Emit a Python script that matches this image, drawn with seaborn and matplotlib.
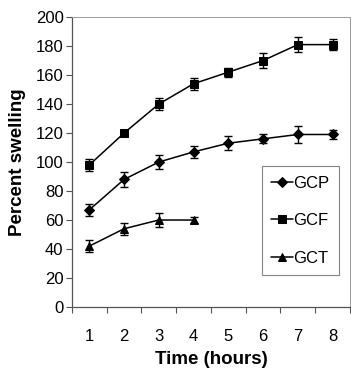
import matplotlib
matplotlib.use("Agg")
import matplotlib.pyplot as plt
import seaborn as sns
import pandas as pd

hours = [1, 2, 3, 4, 5, 6, 7, 8]
gcp = [67, 88, 100, 107, 113, 116, 119, 119]
gcp_err = [4, 5, 5, 4, 5, 3, 6, 3]
gcf = [98, 120, 140, 154, 162, 170, 181, 181]
gcf_err = [4, 2, 4, 4, 3, 5, 5, 4]
gct_hours = [1, 2, 3, 4]
gct = [42, 54, 60, 60]
gct_err = [4, 4, 5, 2]

sns.set_theme(style="white")
plt.rcParams["font.family"] = ["Liberation Sans", "DejaVu Sans"]
plt.rcParams["text.color"] = "black"
plt.rcParams["axes.labelcolor"] = "black"
plt.rcParams["xtick.color"] = "black"
plt.rcParams["ytick.color"] = "black"

fig = plt.figure(figsize=(3.51, 3.71), dpi=100)
ax = fig.add_axes([0.205, 0.1725, 0.792, 0.7815])

series = [
    ("GCP", hours, gcp, gcp_err, "D", 5),
    ("GCF", hours, gcf, gcf_err, "s", 6),
    ("GCT", gct_hours, gct, gct_err, "^", 6),
]
for name, x, y, err, mk, ms in series:
    df = pd.DataFrame({"x": x, "y": y})
    sns.lineplot(data=df, x="x", y="y", ax=ax, color="black", marker=mk,
                 markersize=ms, markeredgecolor="black", linewidth=1.1,
                 label=name)
    ax.errorbar(x, y, yerr=err, fmt="none", ecolor="black", elinewidth=1,
                capsize=3, capthick=1)

ax.set_xlim(0.5, 8.5)
ax.set_ylim(0, 200)
ax.set_yticks(range(0, 201, 20))
ax.set_xticks(hours)
ax.set_xticks([h + 0.5 for h in range(0, 9)], minor=True)
ax.tick_params(axis="x", which="major", length=0, pad=16, labelsize=12,
               labelcolor="black")
ax.tick_params(axis="x", which="minor", length=4, width=0.8, color="#555555",
               direction="out", bottom=True)
ax.tick_params(axis="y", length=4, width=0.8, color="#555555",
               direction="out", left=True, labelsize=12, pad=2,
               labelcolor="black")
for side in ["left", "bottom"]:
    ax.spines[side].set_color("#555555")
    ax.spines[side].set_linewidth(0.9)
for side in ["top", "right"]:
    ax.spines[side].set_color("#999999")
    ax.spines[side].set_linewidth(0.7)

ax.set_xlabel("Time (hours)", fontsize=13.5, fontweight="bold", labelpad=5)
ax.set_ylabel("Percent swelling", fontsize=13.5, fontweight="bold", labelpad=7)

leg = ax.legend(loc="upper left", bbox_to_anchor=(0.683, 0.485), fontsize=12,
                frameon=True, fancybox=False, edgecolor="#666666",
                labelspacing=1.35, handlelength=1.3, handletextpad=0.05,
                borderpad=0.55, borderaxespad=0)
leg.get_frame().set_linewidth(0.8)

fig.savefig("out.png", dpi=100)
